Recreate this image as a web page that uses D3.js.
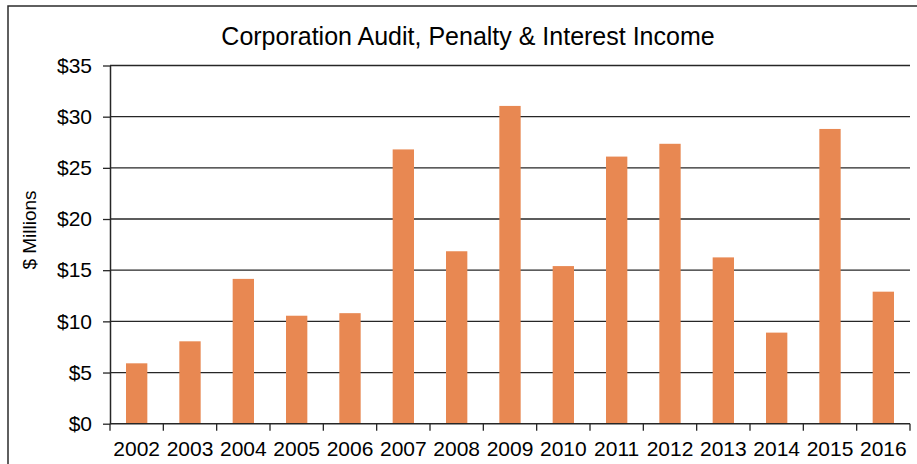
<!DOCTYPE html>
<html>
<head>
<meta charset="utf-8">
<script src="https://cdn.jsdelivr.net/npm/d3@7"></script>
<style>
  html, body { margin: 0; padding: 0; background: #fff; }
  svg { display: block; font-family: "Liberation Sans", Arial, sans-serif; }
</style>
</head>
<body>
<svg id="chart" width="917" height="464"></svg>
<script>
// Corporation audit, penalty & interest income by year ($ millions)
const years = ["2002","2003","2004","2005","2006","2007","2008","2009","2010","2011","2012","2013","2014","2015","2016"];
const income = [5.9, 8.05, 14.15, 10.55, 10.8, 26.8, 16.85, 31.05, 15.4, 26.1, 27.35, 16.25, 8.9, 28.8, 12.9];
const yTicks = [0, 5, 10, 15, 20, 25, 30, 35];

const title = "Corporation Audit, Penalty & Interest Income";
const yTitle = "$ Millions";

const svg = d3.select("#chart");
const margin = { left: 110, right: 7, top: 65.5, bottom: 40.3 };
const W = 917, H = 464;
const innerW = W - margin.left - margin.right;
const innerH = H - margin.top - margin.bottom;

// outer chart frame (runs off the right and bottom edges)
svg.append("rect")
  .attr("x", 8).attr("y", 6)
  .attr("width", 1000).attr("height", 1000)
  .attr("fill", "none")
  .attr("stroke", "#2b2b2b")
  .attr("stroke-width", 1.5);

const g = svg.append("g").attr("transform", `translate(${margin.left},${margin.top})`);

const x = d3.scaleBand().domain(years).range([0, innerW]).paddingInner(0.6).paddingOuter(0.3);
const y = d3.scaleLinear().domain([0, 35]).range([innerH, 0]);

// horizontal gridlines
g.append("g").attr("class", "grid")
  .selectAll("line").data(yTicks.filter(d => d > 0)).join("line")
  .attr("x1", 0).attr("x2", innerW)
  .attr("y1", d => y(d)).attr("y2", d => y(d))
  .attr("stroke", "#262626").attr("stroke-width", 1.3);

// bars
g.append("g").selectAll("rect").data(years).join("rect")
  .attr("x", d => x(d))
  .attr("width", x.bandwidth())
  .attr("y", (d, i) => y(income[i]))
  .attr("height", (d, i) => y(0) - y(income[i]))
  .attr("fill", "#e88852");

// y axis
const yAxis = g.append("g")
  .call(d3.axisLeft(y).tickValues(yTicks).tickSize(7).tickSizeOuter(0).tickPadding(11).tickFormat(d => "$" + d));
yAxis.select(".domain").attr("stroke", "#262626").attr("stroke-width", 1.5);
yAxis.selectAll(".tick line").attr("stroke", "#262626").attr("stroke-width", 1.3);
yAxis.selectAll(".tick text").attr("font-size", 21).attr("fill", "#000")
  .attr("font-family", "Liberation Sans, Arial, sans-serif");

// x axis: labels centred under bars, tick marks at category boundaries
const xAxis = g.append("g").attr("transform", `translate(0,${innerH})`)
  .call(d3.axisBottom(x).tickSize(0).tickPadding(17));
xAxis.select(".domain").remove();
xAxis.selectAll(".tick text").attr("font-size", 21).attr("fill", "#000")
  .attr("font-family", "Liberation Sans, Arial, sans-serif");

const step = x.step();
const bounds = years.map(d => x(d) - step * x.paddingOuter()).concat([innerW]);
g.append("line")
  .attr("x1", 0).attr("x2", innerW)
  .attr("y1", innerH).attr("y2", innerH)
  .attr("stroke", "#262626").attr("stroke-width", 1.5);
g.append("g").selectAll("line").data(bounds).join("line")
  .attr("x1", d => d).attr("x2", d => d)
  .attr("y1", innerH).attr("y2", innerH + 7)
  .attr("stroke", "#262626").attr("stroke-width", 1.3);

// titles
svg.append("text")
  .attr("x", 468).attr("y", 44.5)
  .attr("text-anchor", "middle")
  .attr("font-size", 25)
  .attr("fill", "#000")
  .text(title);

svg.append("text")
  .attr("transform", "translate(36,230) rotate(-90)")
  .attr("text-anchor", "middle")
  .attr("font-size", 19)
  .attr("fill", "#000")
  .text(yTitle);
</script>
</body>
</html>
